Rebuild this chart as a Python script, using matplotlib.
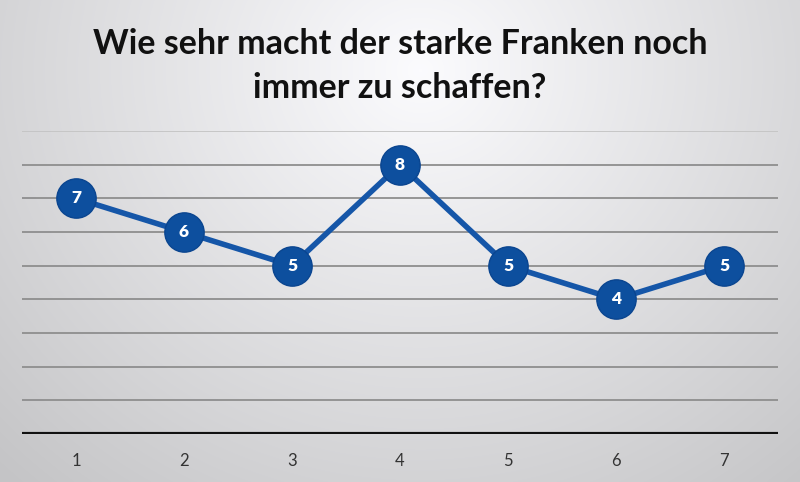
import numpy as np
import matplotlib
matplotlib.use("Agg")
import matplotlib.pyplot as plt

categories = [1, 2, 3, 4, 5, 6, 7]
values = [7, 6, 5, 8, 5, 4, 5]
title = "Wie sehr macht der starke Franken noch\nimmer zu schaffen?"

plt.rcParams['font.family'] = ['Lato', 'DejaVu Sans']

fig = plt.figure(figsize=(8, 4.82), dpi=100)

# background gradient
bg = fig.add_axes([0, 0, 1, 1])
yy, xx = np.mgrid[0:482, 0:800]
d = np.sqrt(((xx - 420) / 560.0) ** 2 + ((yy - 70) / 520.0) ** 2)
shade = np.clip(0.985 - 0.2 * d, 0.77, 0.985)
img = np.dstack([shade, shade, shade * 1.01])
bg.imshow(np.clip(img, 0, 1), aspect="auto", extent=[0, 1, 0, 1])
bg.set_axis_off()

ax = fig.add_axes([22 / 800, 1 - 434 / 482, 756 / 800, (434 - 131) / 482])
ax.patch.set_alpha(0)
ax.set_xlim(0.5, 7.5)
ax.set_ylim(0, 9)

for g in range(1, 10):
    ax.axhline(g, color="#c4c4c4" if g == 9 else "#8e8e8e", lw=1.3, zorder=1)
ax.axhline(0, color="#111111", lw=3, zorder=2)

ax.plot(categories, values, color="#1556a8", lw=4, zorder=3)
ax.scatter(categories, values, s=800, color="#0d4f9e", edgecolors="#0a4590",
           linewidths=1, zorder=4)
for c, v in zip(categories, values):
    ax.text(c, v, str(v), color="white", fontsize=12.5, fontweight="heavy",
            ha="center", va="center", zorder=5)

for s in ax.spines.values():
    s.set_visible(False)
ax.set_yticks([])
ax.set_xticks(categories)
ax.tick_params(axis="x", length=0, pad=14, labelsize=12, labelcolor="#333333")

fig.text(0.5, 1 - 66 / 482, title, ha="center", va="center", fontsize=24.5,
         fontweight="bold", color="#111111", linespacing=1.45)

fig.savefig("out.png", dpi=100)
